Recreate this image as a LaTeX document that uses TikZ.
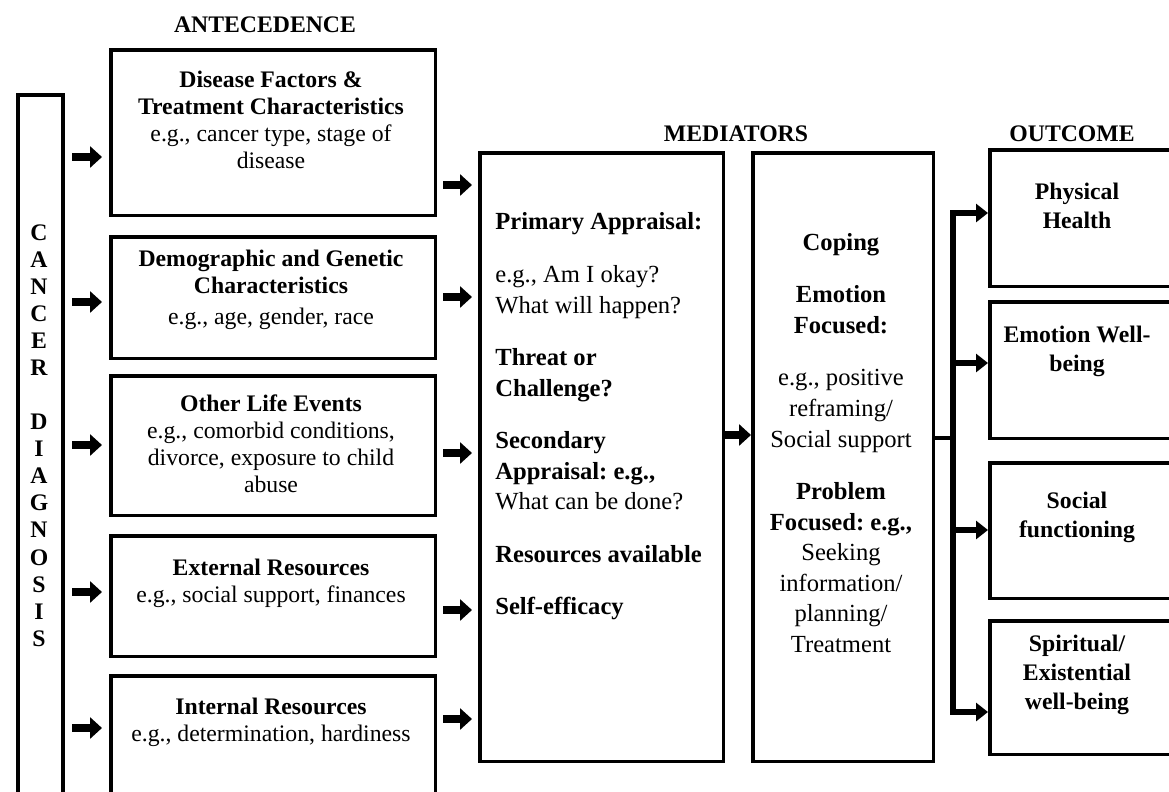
\documentclass[tikz,border=0pt]{standalone}
\usepackage{fontspec}
\setmainfont{Liberation Serif}
\usetikzlibrary{arrows.meta}
\frenchspacing

\tikzset{
  box/.style={draw, line width=2pt, inner sep=0pt, anchor=north west},
  txt/.style={inner sep=0pt, align=center, font=\fontsize{13.5}{15.4}\selectfont},
  medtxt/.style={inner sep=0pt, font=\fontsize{14}{17.4}\selectfont},
  head/.style={inner sep=0pt, font=\fontsize{13.5}{15.4}\selectfont\bfseries},
  fat/.style={-{Triangle[length=0.24cm,width=0.42cm]}, line width=4.5pt},
  slim/.style={-{Triangle[length=0.24cm,width=0.36cm]}, line width=3.4pt},
  trunk/.style={line width=3pt, line cap=rect}
}

\begin{document}
\begin{tikzpicture}[x=0.02cm,y=-0.02cm]
\useasboundingbox (0,0) rectangle (1169,791);
\clip (0,0) rectangle (1169,791);

% headings
\node[head](antHead) at (265,25){ANTECEDENCE};
\node[head](medHead) at (736,134){MEDIATORS};
\node[head](outHead) at (1072,134){OUTCOME};

% cancer diagnosis column
\node[box, minimum width=0.9cm, minimum height=14.74cm](diag) at (16,93){};
\node[txt, font=\fontsize{13.5}{15.4}\selectfont\bfseries](diagT) at (39,435.5)
  {C\\A\\N\\C\\E\\R\\[15.4pt]D\\I\\A\\G\\N\\O\\S\\I\\S};

% antecedence boxes
\node[box, minimum width=6.5cm, minimum height=3.32cm](dis) at (109,48){};
\node[box, minimum width=6.5cm, minimum height=2.44cm](dem) at (109,235){};
\node[box, minimum width=6.5cm, minimum height=2.8cm](life) at (109,374){};
\node[box, minimum width=6.5cm, minimum height=2.42cm](ext) at (109,534){};
\node[box, minimum width=6.5cm, minimum height=3.12cm](int) at (109,674){};

\node[txt](disT) at (271,120){\textbf{Disease Factors \&}\\\textbf{Treatment Characteristics}\\e.g., cancer type, stage of\\disease};
\node[txt](demT) at (271,290){\textbf{Demographic and Genetic}\\\textbf{Characteristics}\\[2pt]e.g., age, gender, race};
\node[txt](lifeT) at (271,444){\textbf{Other Life Events}\\e.g., comorbid conditions,\\divorce, exposure to child\\abuse};
\node[txt](extT) at (271,583){\textbf{External Resources}\\e.g., social support, finances};
\node[txt](intT) at (271,722){\textbf{Internal Resources}\\e.g., determination, hardiness};

% mediators
\node[box, minimum width=4.88cm, minimum height=12.18cm](appr) at (478,151){};
\node[box, minimum width=3.62cm, minimum height=12.18cm](copi) at (751,151){};

\node[medtxt, align=left, anchor=west](apprT) at (495,416.5){\textbf{Primary Appraisal:}\\[12.5pt]e.g., Am I okay?\\What will happen?\\[12.5pt]\textbf{Threat or}\\\textbf{Challenge?}\\[12.5pt]\textbf{Secondary}\\\textbf{Appraisal: e.g.,}\\What can be done?\\[12.5pt]\textbf{Resources available}\\[12.5pt]\textbf{Self-efficacy}};
\node[medtxt, align=center](copiT) at (841,443){\textbf{Coping}\\[12.5pt]\textbf{Emotion}\\\textbf{Focused:}\\[12.5pt]e.g., positive\\reframing/\\Social support\\[12.5pt]\textbf{Problem}\\\textbf{Focused: e.g.,}\\Seeking\\information/\\planning/\\Treatment};

% outcome boxes
\node[box, minimum width=3.68cm, minimum height=2.74cm](phys) at (988,148){};
\node[box, minimum width=3.68cm, minimum height=2.74cm](emo) at (988,300){};
\node[box, minimum width=3.68cm, minimum height=2.72cm](soc) at (988,461){};
\node[box, minimum width=3.68cm, minimum height=2.68cm](spir) at (988,619){};

\node[txt, font=\fontsize{13.5}{16.5}\selectfont\bfseries](physT) at (1077,206){Physical\\Health};
\node[txt, font=\fontsize{13.5}{16.5}\selectfont\bfseries](emoT) at (1077,351){Emotion Well-\\being};
\node[txt, font=\fontsize{13.5}{16.5}\selectfont\bfseries](socT) at (1077,517){Social\\functioning};
\node[txt, font=\fontsize{13.5}{16.5}\selectfont\bfseries](spirT) at (1077,675){Spiritual/\\Existential\\well-being};

% arrow start points
\coordinate (inDis) at (72,157);
\coordinate (inDem) at (72,302);
\coordinate (inLife) at (72,445);
\coordinate (inExt) at (72,592);
\coordinate (inInt) at (72,728);
\coordinate (outDis) at (443,185);
\coordinate (outDem) at (443,297);
\coordinate (outLife) at (443,453);
\coordinate (outExt) at (443,610);
\coordinate (outInt) at (443,719);
\coordinate (split) at (953,438);
\coordinate (toPhys) at (953,213);
\coordinate (toEmo) at (953,363);
\coordinate (toSoc) at (953,530);
\coordinate (toSpir) at (953,712);

\path
(inDis) edge[fat, shorten >=0.14cm] (inDis -| dis.west)
(inDem) edge[fat, shorten >=0.14cm] (inDem -| dem.west)
(inLife) edge[fat, shorten >=0.14cm] (inLife -| life.west)
(inExt) edge[fat, shorten >=0.14cm] (inExt -| ext.west)
(inInt) edge[fat, shorten >=0.14cm] (inInt -| int.west)
(outDis) edge[fat, shorten >=0.12cm] (outDis -| appr.west)
(outDem) edge[fat, shorten >=0.12cm] (outDem -| appr.west)
(outLife) edge[fat, shorten >=0.12cm] (outLife -| appr.west)
(outExt) edge[fat, shorten >=0.12cm] (outExt -| appr.west)
(outInt) edge[fat, shorten >=0.12cm] (outInt -| appr.west)
(appr.east |- 0,435) edge[fat] (copi.west |- 0,435);

\draw[line width=2.5pt] (copi.east |- split) -- (split);
\draw[trunk] (toPhys) -- (toSpir);
\path
(toPhys) edge[slim] (toPhys -| phys.west)
(toEmo) edge[slim] (toEmo -| emo.west)
(toSoc) edge[slim] (toSoc -| soc.west)
(toSpir) edge[slim] (toSpir -| spir.west);
\end{tikzpicture}
\end{document}
